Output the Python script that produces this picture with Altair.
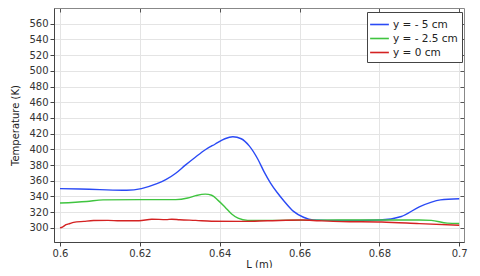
import altair as alt
import pandas as pd

# ---- data ----
blue_L = [0.6, 0.605, 0.61, 0.6167, 0.6204, 0.6241, 0.6265, 0.629, 0.6314, 0.6339, 0.6364,
          0.6388, 0.6413, 0.6433, 0.6454, 0.6474, 0.6495, 0.6511, 0.6527, 0.6544, 0.656,
          0.6585, 0.661, 0.6634, 0.667, 0.675, 0.68, 0.6855, 0.69, 0.6953, 0.7]
blue_T = [350, 349.5, 348.7, 347.9, 350, 356, 361.4, 369.6, 379.9, 390, 399.5,
          406.5, 413.5, 416, 413.5, 404.4, 388, 371.7, 357.4, 345, 334.9,
          321, 313.5, 310, 309.5, 309.5, 310, 314.5, 326.7, 335.6, 337]

green_L = [0.6, 0.6067, 0.6108, 0.62, 0.629, 0.632, 0.634, 0.6364, 0.638, 0.6396, 0.6413,
           0.643, 0.6446, 0.647, 0.655, 0.66, 0.67, 0.68, 0.69, 0.693, 0.697, 0.7]
green_T = [331.6, 333.6, 335.6, 336, 336, 338, 341, 343, 341.5, 335, 326.7,
           317.7, 312.3, 309.5, 309.5, 309.8, 310, 310, 310, 309.5, 306, 305.5]

red_L = [0.6, 0.6006, 0.6015, 0.6025, 0.6034, 0.606, 0.6084, 0.612, 0.615, 0.6198, 0.623,
         0.6266, 0.628, 0.63, 0.634, 0.638, 0.646, 0.652, 0.6606, 0.665, 0.6705, 0.6806,
         0.69, 0.7]
red_T = [300, 301, 304, 305.6, 307, 308.3, 309.3, 309.5, 309, 309, 311,
         310.5, 311, 310.3, 309.5, 308.5, 308.3, 309, 310, 309, 308, 307.4,
         305.4, 303.3]

series_names = ["y = - 5 cm", "y = - 2.5 cm", "y = 0 cm"]
series_colors = ["#2a4af5", "#3fc43f", "#d42222"]

x_ticks = [0.6, 0.62, 0.64, 0.66, 0.68, 0.7]
y_ticks = list(range(300, 561, 20))

rows = []
for name, Ls, Ts in zip(series_names, [blue_L, green_L, red_L], [blue_T, green_T, red_T]):
    for i, (l, t) in enumerate(zip(Ls, Ts)):
        rows.append({"L": l, "T": t, "series": name, "i": i})
df = pd.DataFrame(rows)

xscale = alt.Scale(domain=[0.5985, 0.7012], nice=False, zero=False)
yscale = alt.Scale(domain=[282, 580], nice=False, zero=False)

lines = alt.Chart(df).mark_line(strokeWidth=1.4, interpolate="monotone").encode(
    x=alt.X("L:Q", scale=xscale, title="L (m)",
            axis=alt.Axis(values=x_ticks, format="~g", grid=True, gridColor="#e4e4e4",
                          tickSize=4, tickColor="#444", domainColor="#444",
                          labelPadding=2, titlePadding=1)),
    y=alt.Y("T:Q", scale=yscale, title="Temperature (K)",
            axis=alt.Axis(values=y_ticks, grid=True, gridColor="#e4e4e4",
                          tickSize=4, tickColor="#444", domainColor="#444",
                          labelPadding=2, titlePadding=8)),
    color=alt.Color("series:N",
                    scale=alt.Scale(domain=series_names, range=series_colors),
                    legend=alt.Legend(title=None, orient="none", legendX=313, legendY=4,
                                      fillColor="white", strokeColor="#444",
                                      padding=4, symbolType="M-1.25,0H1.25", symbolSize=225,
                                      symbolStrokeWidth=1.6, labelFontSize=10.5,
                                      labelColor="#222", rowPadding=0, labelOffset=5)),
    detail="series:N",
    order="i:Q",
)

mirror = alt.Chart(df).mark_line(opacity=0).encode(
    x=alt.X("L:Q", scale=xscale,
            axis=alt.Axis(orient="top", values=x_ticks, labels=False, title=None, grid=False,
                          domain=False, tickSize=4, offset=-4, tickColor="#555")),
    y=alt.Y("T:Q", scale=yscale,
            axis=alt.Axis(orient="right", values=y_ticks, labels=False, title=None, grid=False,
                          domain=False, tickSize=4, offset=-4, tickColor="#555")),
    detail="series:N",
)

chart = alt.layer(lines, mirror).resolve_axis(x="independent", y="independent").properties(
    width=410, height=234,
    padding={"left": 46, "top": 0, "right": 8, "bottom": 26},
    autosize=alt.AutoSizeParams(type="none"),
).configure_view(stroke="#888").configure_axis(
    labelFont="DejaVu Sans", labelFontSize=10, labelColor="#333",
    titleFont="DejaVu Sans", titleFontSize=10, titleColor="#222", titleFontWeight="normal",
).configure_legend(labelFont="DejaVu Sans")

chart.save("out.html", embed_options={"renderer": "svg", "actions": False})
